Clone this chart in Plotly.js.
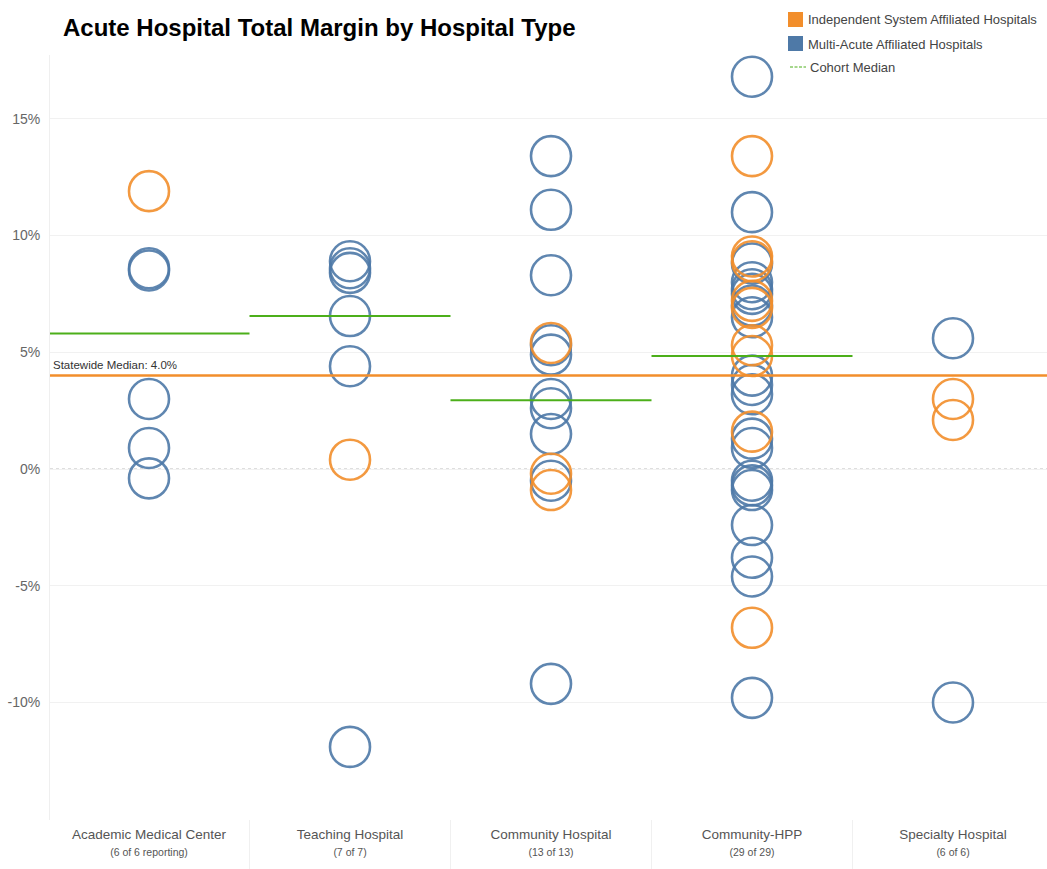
<!DOCTYPE html>
<html>
<head>
<meta charset="utf-8">
<script src="https://cdn.plot.ly/plotly-3.0.1.min.js"></script>
<style>html,body{margin:0;padding:0;background:#fff;}#chart{width:1047px;height:869px;}</style>
</head>
<body>
<div id="chart"></div>
<script>
// ---- data ----
const categories = ["Academic Medical Center", "Teaching Hospital", "Community Hospital", "Community-HPP", "Specialty Hospital"];
const subLabels = ["(6 of 6 reporting)", "(7 of 7)", "(13 of 13)", "(29 of 29)", "(6 of 6)"];
const independentValues = [
  [11.9],
  [0.4],
  [5.4, -0.2, -0.9],
  [13.4, 9.1, 8.9, 7.2, 6.9, 5.3, 4.84, 1.6, -6.8],
  [3.0, 2.1]
];
const multiAcuteValues = [
  [8.6, 8.5, 3.0, 0.9, -0.4],
  [8.9, 8.6, 8.4, 6.55, 4.4, -11.9],
  [13.4, 11.1, 8.3, 5.3, 4.9, 3.0, 2.6, 1.5, -0.5, -9.2],
  [16.8, 11.0, 8.8, 8.0, 7.7, 7.5, 7.0, 6.5, 4.0, 3.6, 3.2, 1.3, 0.9, -0.5, -0.7, -0.9, -2.4, -3.8, -4.6, -9.8],
  [5.6, -10.0]
];
const cohortMedian = [5.8, 6.55, 2.95, 4.84, null];
const statewideMedian = 4.0;
const yTickVals = [-10, -5, 0, 5, 10, 15];
const yTickText = ["-10%", "-5%", "0%", "5%", "10%", "15%"];
const seriesNames = ["Independent System Affiliated Hospitals", "Multi-Acute Affiliated Hospitals"];

// ---- style ----
const ORANGE = "#F28E2B", BLUE = "#4E79A7", GREEN = "#4CAF1A";
const FONT = "'Liberation Sans', Arial, sans-serif";
const W = 1047, H = 869, ML = 50, MR = 0, MT = 55, MB = 49;
const PW = W - ML - MR, PH = H - MT - MB;
const px2x = p => (p - ML) / PW;
const py2y = p => (H - MB - p) / PH;

function flatten(vals) {
  const xs = [], ys = [];
  vals.forEach((arr, i) => arr.forEach(v => { xs.push(i); ys.push(v); }));
  return {xs, ys};
}
const ind = flatten(independentValues), mul = flatten(multiAcuteValues);

const traces = [
  {type: "scatter", mode: "markers", x: mul.xs, y: mul.ys, name: seriesNames[1], showlegend: false,
   marker: {symbol: "circle-open", size: 40, color: BLUE, opacity: 0.9, line: {width: 2.6, color: BLUE}}, hoverinfo: "y"},
  {type: "scatter", mode: "markers", x: ind.xs, y: ind.ys, name: seriesNames[0], showlegend: false,
   marker: {symbol: "circle-open", size: 40, color: ORANGE, opacity: 0.9, line: {width: 2.6, color: ORANGE}}, hoverinfo: "y"}
];

const shapes = [];
// zero line dotted
shapes.push({type: "line", xref: "paper", x0: 0, x1: 1, yref: "y", y0: 0, y1: 0, line: {color: "#BBBBBB", width: 1, dash: "dot"}, layer: "below"});
// category separators in label area
for (let i = 0; i < categories.length - 1; i++) {
  shapes.push({type: "line", xref: "x", x0: i + 0.5, x1: i + 0.5, yref: "paper", y0: 0, y1: -MB / PH, line: {color: "#F0F0F0", width: 1}});
}
// cohort medians
cohortMedian.forEach((m, i) => {
  if (m === null) return;
  shapes.push({type: "line", xref: "x", x0: i - 0.5, x1: i + 0.5, yref: "y", y0: m, y1: m, line: {color: GREEN, width: 2}});
});
// statewide median
shapes.push({type: "line", xref: "paper", x0: 0, x1: 1, yref: "y", y0: statewideMedian, y1: statewideMedian, line: {color: ORANGE, width: 2.5}});
// legend swatches
shapes.push({type: "rect", xref: "paper", yref: "paper", x0: px2x(788), x1: px2x(803), y0: py2y(27), y1: py2y(12), fillcolor: ORANGE, line: {width: 0}});
shapes.push({type: "rect", xref: "paper", yref: "paper", x0: px2x(788), x1: px2x(803), y0: py2y(51), y1: py2y(36), fillcolor: BLUE, line: {width: 0}});
shapes.push({type: "line", xref: "paper", yref: "paper", x0: px2x(790), x1: px2x(806), y0: py2y(67), y1: py2y(67), line: {color: GREEN, width: 1, dash: "3px,1.5px"}});

const annotations = [
  {xref: "paper", yref: "y", x: px2x(51), y: statewideMedian, xanchor: "left", yanchor: "bottom", yshift: 3,
   text: "Statewide Median: " + statewideMedian.toFixed(1) + "%", showarrow: false, font: {family: FONT, size: 11.5, color: "#333"}},
  {xref: "paper", yref: "paper", x: px2x(806), y: py2y(20), xanchor: "left", yanchor: "middle", text: seriesNames[0], showarrow: false, font: {family: FONT, size: 13, color: "#444"}},
  {xref: "paper", yref: "paper", x: px2x(806), y: py2y(44), xanchor: "left", yanchor: "middle", text: seriesNames[1], showarrow: false, font: {family: FONT, size: 13, color: "#444"}},
  {xref: "paper", yref: "paper", x: px2x(808), y: py2y(67), xanchor: "left", yanchor: "middle", text: "Cohort Median", showarrow: false, font: {family: FONT, size: 13, color: "#444"}}
];

const tickText = categories.map((c, i) => c + "<br><span style='font-size:10.5px'>" + subLabels[i] + "</span>");

const layout = {
  width: W, height: H,
  margin: {l: ML, r: MR, t: MT, b: MB, pad: 0},
  paper_bgcolor: "#fff", plot_bgcolor: "#fff",
  showlegend: false,
  title: {text: "<b>Acute Hospital Total Margin by Hospital Type</b>", xref: "container", yref: "container",
          x: 63 / W, xanchor: "left", y: 1 - 28 / H, yanchor: "middle", font: {family: FONT, size: 24, color: "#000"}},
  xaxis: {type: "linear", range: [-(149 - ML) / 201, -(149 - ML) / 201 + PW / 201], tickvals: categories.map((c, i) => i), ticktext: tickText,
          showgrid: false, zeroline: false, showline: false, ticks: "", fixedrange: true, ticklabelstandoff: 4,
          tickfont: {family: FONT, size: 13.5, color: "#555"}},
  yaxis: {range: [-15.03, 17.73], tickvals: yTickVals, ticktext: yTickText, showgrid: true, gridcolor: "#F1F1F1", gridwidth: 1,
          zeroline: false, showline: true, linecolor: "#EFEFEF", linewidth: 1, ticks: "", ticklabelstandoff: 6,
          tickfont: {family: FONT, size: 14, color: "#666"}},
  shapes, annotations
};

Plotly.newPlot("chart", traces, layout, {displayModeBar: false, staticPlot: true});
</script>
</body>
</html>
